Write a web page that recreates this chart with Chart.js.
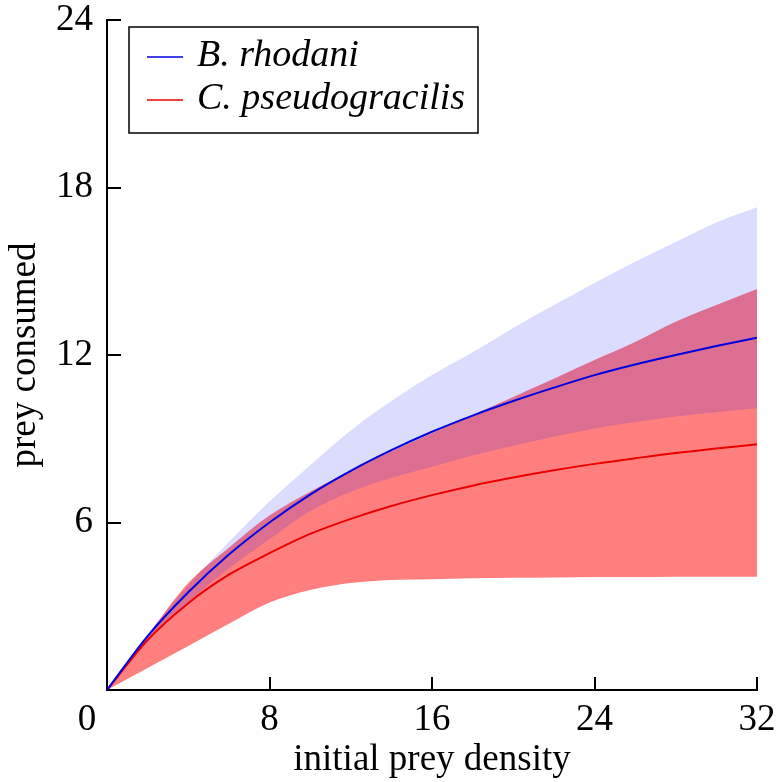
<!DOCTYPE html>
<html>
<head>
<meta charset="utf-8">
<script src="https://cdn.jsdelivr.net/npm/chart.js@4.4.1/dist/chart.umd.min.js"></script>
<style>
  html, body { margin: 0; padding: 0; background: #fff; }
  #wrap { width: 777px; height: 782px; }
</style>
</head>
<body>
<div id="wrap"><canvas id="chart" width="777" height="782"></canvas></div>
<script>
// initial prey density
const density = [0, 2, 4, 6, 8, 10, 12, 14, 16, 18, 20, 22, 24, 26, 28, 30, 32];

// B. rhodani: fitted curve and interval
const rhodaniMean  = [0, 1.93, 3.5, 4.85, 6.0, 7.0, 7.85, 8.59, 9.25, 9.83, 10.35, 10.83, 11.28, 11.66, 12.0, 12.32, 12.62];
const rhodaniUpper = [0, 2.0, 3.75, 5.3, 6.75, 8.05, 9.3, 10.35, 11.28, 12.1, 12.97, 13.79, 14.58, 15.34, 16.05, 16.75, 17.29];
const rhodaniLower = [0, 1.75, 3.15, 4.35, 5.4, 6.4, 7.1, 7.6, 8.0, 8.4, 8.75, 9.07, 9.37, 9.6, 9.8, 9.95, 10.09];

// C. pseudogracilis: fitted curve and interval
const pseudoMean  = [0, 1.79, 3.11, 4.13, 4.9, 5.59, 6.13, 6.59, 6.98, 7.32, 7.61, 7.87, 8.1, 8.3, 8.49, 8.65, 8.8];
const pseudoUpper = [0, 1.95, 3.83, 5.1, 6.25, 7.1, 7.85, 8.55, 9.2, 9.85, 10.5, 11.15, 11.82, 12.47, 13.19, 13.79, 14.36];
const pseudoLower = [0, 0.79, 1.58, 2.37, 3.13, 3.58, 3.83, 3.94, 3.97, 4.0, 4.02, 4.03, 4.05, 4.05, 4.06, 4.06, 4.06];

const xTicks = [0, 8, 16, 24, 32];
const yTicks = [0, 6, 12, 18, 24];

const legendItems = ['B. rhodani', 'C. pseudogracilis'];

const colors = {
    blue: 'rgb(0, 0, 225)',
    red: 'rgb(235, 0, 0)',
    blueBand: 'rgba(0, 0, 255, 0.137)',
    redBand: 'rgba(255, 0, 0, 0.5)'
};

const serif = "'Liberation Serif', 'DejaVu Serif', serif";

function points(ys) {
    return density.map((x, i) => ({ x: x, y: ys[i] }));
}

// inward tick marks, the odd "0" and the boxed legend
const decorations = {
    id: 'decorations',
    afterDraw(chart) {
        const ctx = chart.ctx;
        const xs = chart.scales.x;
        const ys = chart.scales.y;
        const area = chart.chartArea;
        ctx.save();
        ctx.strokeStyle = '#000';
        ctx.lineWidth = 2;
        yTicks.slice(1).forEach(v => {
            const py = Math.round(ys.getPixelForValue(v));
            ctx.beginPath();
            ctx.moveTo(area.left, py);
            ctx.lineTo(area.left + 14, py);
            ctx.stroke();
        });
        xTicks.slice(1).forEach(v => {
            const px = Math.round(xs.getPixelForValue(v));
            ctx.beginPath();
            ctx.moveTo(px, area.bottom);
            ctx.lineTo(px, area.bottom - 13);
            ctx.stroke();
        });

        // origin label sits left of the axis corner
        ctx.fillStyle = '#000';
        ctx.font = '37px ' + serif;
        ctx.textAlign = 'center';
        ctx.textBaseline = 'middle';
        ctx.fillText('0', area.left - 20, area.bottom + 30);

        // legend
        ctx.lineWidth = 1.5;
        ctx.strokeRect(129, 27, 349, 106);
        const lineColors = [colors.blue, colors.red];
        const rows = [57, 100];
        ctx.font = 'italic 38px ' + serif;
        ctx.textAlign = 'left';
        ctx.textBaseline = 'alphabetic';
        legendItems.forEach((label, i) => {
            ctx.strokeStyle = lineColors[i];
            ctx.lineWidth = 1.5;
            ctx.beginPath();
            ctx.moveTo(147, rows[i]);
            ctx.lineTo(183, rows[i]);
            ctx.stroke();
            ctx.fillStyle = '#000';
            ctx.fillText(label, 197, rows[i] + 9);
        });
        ctx.restore();
    }
};

function band(data, fill, bg, order) {
    return {
        data: points(data),
        borderWidth: 0,
        borderColor: 'transparent',
        backgroundColor: bg || 'transparent',
        pointRadius: 0,
        cubicInterpolationMode: 'monotone',
        fill: fill,
        order: order
    };
}

const ctx = document.getElementById('chart').getContext('2d');
const chart = new Chart(ctx, {
    type: 'line',
    data: {
        datasets: [
            {
                label: legendItems[0],
                data: points(rhodaniMean),
                borderColor: colors.blue,
                borderWidth: 2,
                pointRadius: 0,
                cubicInterpolationMode: 'monotone',
                fill: false,
                order: 0
            },
            {
                label: legendItems[1],
                data: points(pseudoMean),
                borderColor: colors.red,
                borderWidth: 2,
                pointRadius: 0,
                cubicInterpolationMode: 'monotone',
                fill: false,
                order: 1
            },
            band(rhodaniUpper, '+1', colors.blueBand, 2),
            band(rhodaniLower, false, null, 3),
            band(pseudoUpper, '+1', colors.redBand, 4),
            band(pseudoLower, false, null, 5)
        ]
    },
    options: {
        responsive: false,
        animation: false,
        layout: { padding: { top: 20, right: 20, left: 0, bottom: 0 } },
        plugins: {
            legend: { display: false },
            tooltip: { enabled: false },
            filler: { propagate: false }
        },
        scales: {
            x: {
                type: 'linear',
                min: 0,
                max: 32,
                afterFit: s => { s.height = 92; s.paddingLeft = 0; s.paddingRight = 0; },
                afterBuildTicks: s => { s.ticks = xTicks.map(v => ({ value: v })); },
                grid: { display: false, drawTicks: false },
                border: { display: true, color: '#000', width: 2 },
                ticks: {
                    padding: 8,
                    color: '#000',
                    font: { family: serif, size: 37 },
                    callback: v => (v === 0 ? '' : v)
                },
                title: {
                    display: true,
                    text: 'initial prey density',
                    color: '#000',
                    font: { family: serif, size: 37 },
                    padding: 0
                }
            },
            y: {
                min: 0,
                max: 24,
                afterFit: s => { s.width = 107; s.paddingTop = 0; s.paddingBottom = 0; },
                afterBuildTicks: s => { s.ticks = yTicks.map(v => ({ value: v })); },
                grid: { display: false, drawTicks: false },
                border: { display: true, color: '#000', width: 2 },
                ticks: {
                    padding: 14,
                    color: '#000',
                    font: { family: serif, size: 37 },
                    callback: v => (v === 0 ? '' : v)
                },
                title: {
                    display: true,
                    text: 'prey consumed',
                    color: '#000',
                    font: { family: serif, size: 37 },
                    padding: { top: 3, bottom: 0 }
                }
            }
        }
    },
    plugins: [decorations]
});
</script>
</body>
</html>
